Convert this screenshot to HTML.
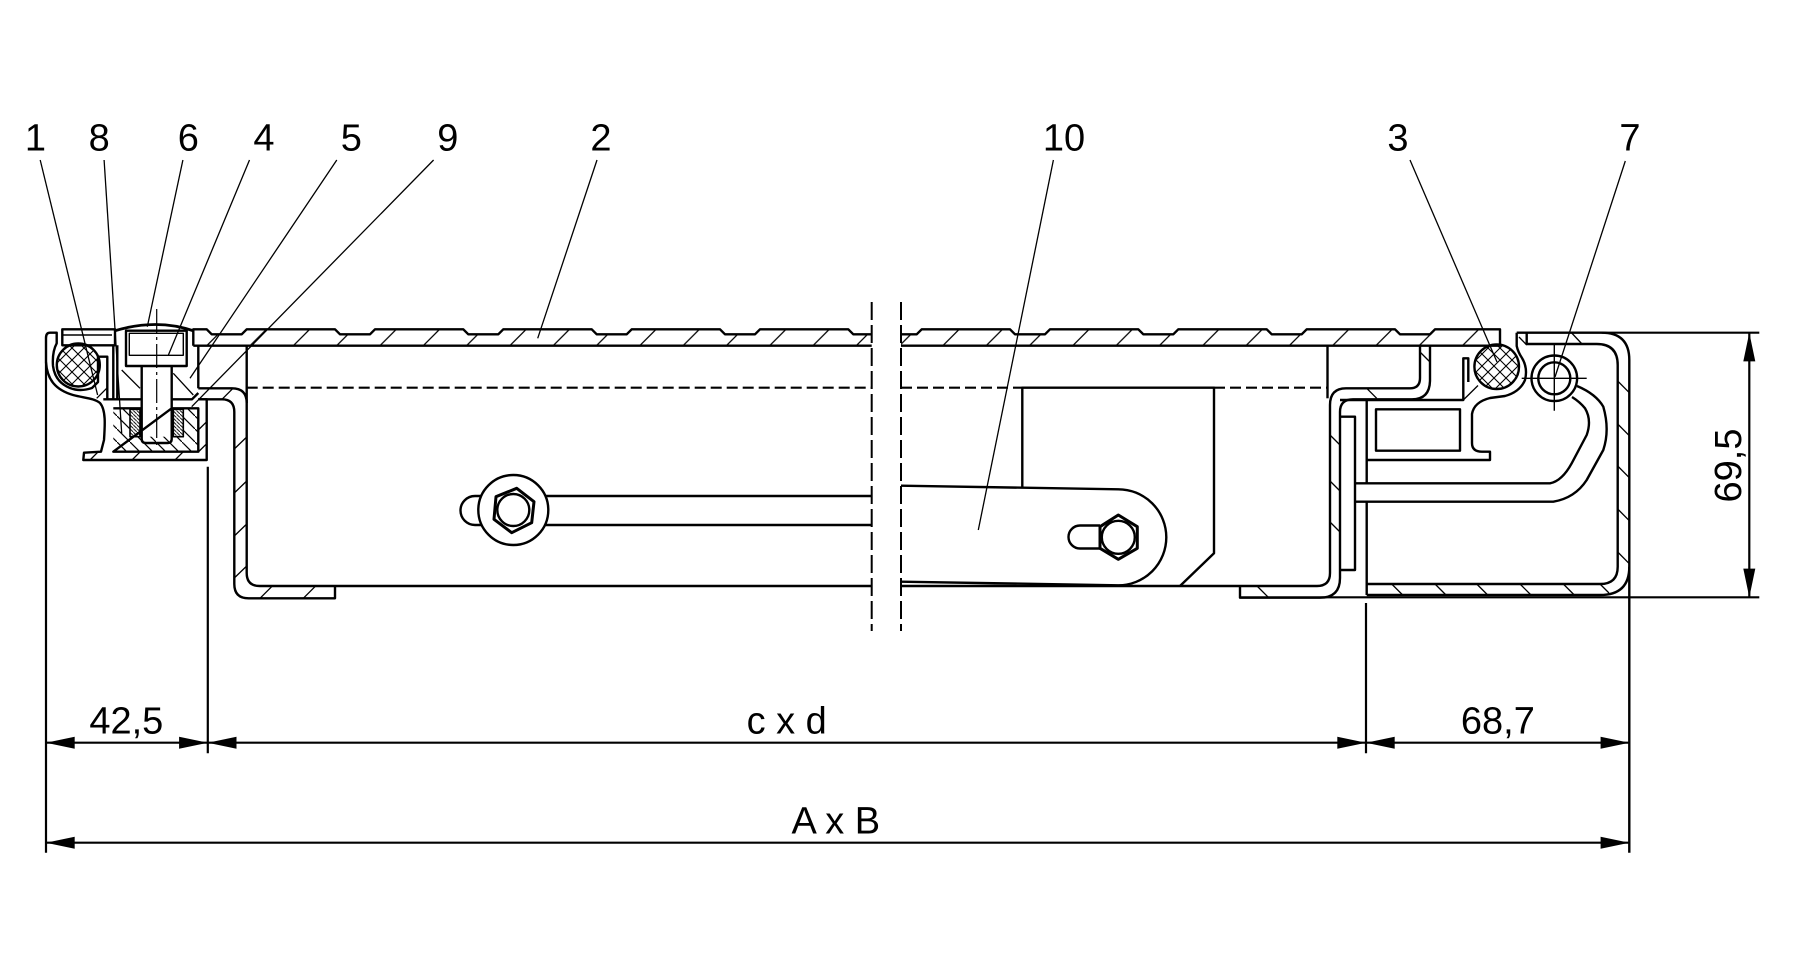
<!DOCTYPE html>
<html><head><meta charset="utf-8"><style>
html,body{margin:0;padding:0;background:#fff;}
svg{display:block;}
text{font-family:"Liberation Sans",Arial,sans-serif;fill:#000;font-size:38px;}
</style></head><body>
<svg width="1794" height="968" viewBox="0 0 1794 968" xmlns="http://www.w3.org/2000/svg">
<defs>
<pattern id="hp" patternUnits="userSpaceOnUse" x="32.8" y="0" width="43.3" height="43.3"><path d="M-2,45.3 L45.3,-2" stroke="#000" stroke-width="1.3" fill="none"/></pattern>
<pattern id="ch" patternUnits="userSpaceOnUse" width="12" height="12"><path d="M-1,-1 L13,13 M13,-1 L-1,13" stroke="#000" stroke-width="1.1" fill="none"/></pattern>
<pattern id="dh" patternUnits="userSpaceOnUse" width="3.6" height="3.6"><path d="M-1,-1 L4.6,4.6" stroke="#000" stroke-width="0.9" fill="none"/></pattern>
<pattern id="bs" patternUnits="userSpaceOnUse" width="13" height="13"><path d="M-1,-1 L14,14" stroke="#000" stroke-width="1.2" fill="none"/></pattern>
</defs>

<!-- plate fills -->
<path d="M193.3,345.7 L193.3,329.3 L206.7,329.3 L211.7,334.3 L241.7,334.3 L246.7,329.3 L335,329.3 L340,334.3 L370,334.3 L375,329.3 L463.3,329.3 L468.3,334.3 L498.3,334.3 L503.3,329.3 L591.7,329.3 L596.7,334.3 L626.7,334.3 L631.7,329.3 L720,329.3 L725,334.3 L755,334.3 L760,329.3 L848.3,329.3 L853.3,334.3 L871.7,334.3 L871.7,345.7 Z" fill="url(#hp)" stroke="none"/>
<path d="M901,345.7 L901,334.3 L916.7,334.3 L921.7,329.3 L1010,329.3 L1015,334.3 L1045,334.3 L1050,329.3 L1138.3,329.3 L1143.3,334.3 L1173.3,334.3 L1178.3,329.3 L1266.7,329.3 L1271.7,334.3 L1301.7,334.3 L1306.7,329.3 L1395,329.3 L1400,334.3 L1430,334.3 L1435,329.3 L1500,329.3 L1500,345.7 Z" fill="url(#hp)" stroke="none"/>

<!-- seals & nut fills -->
<circle cx="78.3" cy="365" r="21.5" fill="url(#ch)" stroke="none"/>
<circle cx="1496.7" cy="366.7" r="22.3" fill="url(#ch)" stroke="none"/>
<rect x="130" y="409.3" width="10" height="27.4" fill="url(#dh)" stroke="none"/>
<rect x="173.3" y="409.3" width="10" height="27.4" fill="url(#dh)" stroke="none"/>
<rect x="113.3" y="408.3" width="16.7" height="43.4" fill="url(#bs)" stroke="none"/>
<rect x="183.3" y="408.3" width="15" height="43.4" fill="url(#bs)" stroke="none"/>
<rect x="130" y="436.7" width="53.3" height="15" fill="url(#bs)" stroke="none"/>

<g fill="none" stroke="#000" stroke-width="2.4" stroke-linejoin="round">
<!-- plate outlines -->
<path d="M193.3,345.7 L193.3,329.3 L206.7,329.3 L211.7,334.3 L241.7,334.3 L246.7,329.3 L335,329.3 L340,334.3 L370,334.3 L375,329.3 L463.3,329.3 L468.3,334.3 L498.3,334.3 L503.3,329.3 L591.7,329.3 L596.7,334.3 L626.7,334.3 L631.7,329.3 L720,329.3 L725,334.3 L755,334.3 L760,329.3 L848.3,329.3 L853.3,334.3 L871.7,334.3"/>
<path d="M193.3,345.7 L871.7,345.7"/>
<path d="M901,334.3 L916.7,334.3 L921.7,329.3 L1010,329.3 L1015,334.3 L1045,334.3 L1050,329.3 L1138.3,329.3 L1143.3,334.3 L1173.3,334.3 L1178.3,329.3 L1266.7,329.3 L1271.7,334.3 L1301.7,334.3 L1306.7,329.3 L1395,329.3 L1400,334.3 L1430,334.3 L1435,329.3 L1500,329.3 L1500,345.7 L901,345.7"/>

<!-- left small plate piece -->
<rect x="62.3" y="329.3" width="52.7" height="16"/>
<path d="M62.3,335 L112,335" stroke-width="1.4"/>

<!-- bolt cap & head -->
<path d="M114,331 Q156.7,318 194,331" stroke-width="2.8"/>
<rect x="126" y="330.7" width="60.7" height="35.3"/>
<rect x="129.3" y="333.3" width="54" height="22" stroke-width="1.4"/>
<path d="M141.7,366 L141.7,439 Q141.7,443 146,443 L167.4,443 Q171.7,443 171.7,439 L171.7,366"/>
<rect x="130" y="409.3" width="10" height="27.4" stroke-width="1.6"/>
<rect x="173.3" y="409.3" width="10" height="27.4" stroke-width="1.6"/>

<!-- blocks around bolt -->
<path d="M113.3,345.3 L113.3,399.3 M117.3,345.3 L117.3,399.3"/>
<path d="M198.3,345.7 L198.3,388.3"/>
<path d="M103.3,399.3 L141.7,399.3 M171.7,399.3 L192,399.3 L198.3,393"/>
<path d="M121.7,370 L140,388.3 M173.3,373.3 L193.3,395" stroke-width="1.3"/>
<path d="M113.3,408.3 L141.7,408.3 M171.7,408.3 L198.3,408.3 L198.3,451.7 L113.3,451.7 Z"/>

<!-- left frame profile (item 1) -->
<path d="M46,362 L46,338 Q46,332.7 50,332.7 L56.7,332.7 L56.7,343.3 Q52,352 53,366 Q55,382 70,388 Q80,392 92,388 L98,382 L98,356.7 L107.3,356.7 L107.3,399.3"/>
<path d="M46,362 C47,380 56,390 73,395 C84,398 94,398 100,403 C106,410 105,425 104,440 L101,451.7 L84,452.7 L83.3,460 L206.7,460 L206.7,399.3 L198.3,399.3"/>
<circle cx="78.3" cy="365" r="21.5"/>
<path d="M96.7,398.3 L107.3,387.7 M90,460 L98.3,451.7 M132,460 L140.3,451.7 M175,460 L183.3,451.7 M198.3,430 L206.7,421.7 M198.3,452 L206.7,443.7" stroke-width="1.3"/>

<!-- left channel -->
<path d="M198.3,388.3 L232,388.3 Q246.7,388.3 246.7,403 L246.7,573 Q246.7,586 259.7,586 L871.7,586"/>
<path d="M246.7,345.7 L246.7,403"/>
<path d="M198.3,399.3 L222,399.3 Q234.3,399.3 234.3,412 L234.3,584 Q234.3,598.3 248.6,598.3 L335,598.3 L335,586"/>
<path d="M234.3,449 L246.7,437 M234.3,493 L246.7,481 M234.3,536 L246.7,524 M234.3,578 L246.7,566 M260,598.3 L272,586.3 M303.3,598.3 L315.3,586.3 M222,399.3 L233,388.3" stroke-width="1.3"/>

<!-- left knob & rod -->
<circle cx="513.3" cy="510" r="35"/>
<polygon points="516.7,488.3 534,501.7 531.7,522.7 511.7,532.7 494,519.3 496,496.7" stroke-width="3"/>
<circle cx="513.3" cy="510" r="16"/>
<path d="M481.2,496 L475,496 A14.5,14.5 0 0 0 475,525 L481.2,525"/>
<path d="M545.4,496 L871.7,496 M544.9,525 L871.7,525"/>

<!-- right interior: block & lever -->
<path d="M1022.3,486.7 L1022.3,387.7 L1214,387.7 L1214,553.3 L1180,586"/>
<path d="M901,485.7 L1118.3,489.3 A48,48 0 0 1 1118.3,585.3 L901,581.7"/>
<polygon points="1118.3,515 1137.3,526.7 1137.3,548.3 1118.3,559.3 1100,548.3 1100,526.7" stroke-width="3"/>
<circle cx="1118.3" cy="537.3" r="16.5"/>
<path d="M1100,525.5 L1080,525.5 A11.5,11.5 0 0 0 1080,548.5 L1100,548.5"/>
<path d="M901,586 L1317,586 Q1330,586 1330,573 L1330,405 Q1330,388.3 1346,388.3 L1410,388.3 Q1420,388.3 1420,378 L1420,345.7"/>
<path d="M1430,345.7 L1430,380 Q1430,399.3 1412,399.3 L1353,399.3 Q1340,399.3 1340,412 L1340,578 Q1340,597.7 1320,597.7 L1240,597.7 L1240,586"/>
<path d="M1327.5,345.7 L1327.5,398.3"/>
<path d="M1330,435 L1340,445 M1330,481 L1340,491 M1330,522 L1340,532 M1257,586 L1268.7,597.7 M1366.7,388.3 L1376.7,398.3 M1420,352 L1430,362" stroke-width="1.3"/>

<!-- thin strip -->
<path d="M1340,416.7 L1355,416.7 L1355,570 L1340,570"/>
<!-- bracket -->
<path d="M1366.7,400 L1366.7,483.3 M1366.7,501.7 L1366.7,595"/>
<path d="M1340,400 L1463.3,400 L1463.3,358.3 L1468.3,358.3 L1468.3,382"/>
<path d="M1463.3,400 L1478,385.5" stroke-width="1.3"/>
<rect x="1376" y="409.3" width="84" height="41.4"/>
<path d="M1516.7,332.7 L1516.7,346 Q1518,352 1522,358 Q1528,368 1525,380 Q1520,392 1505,396 L1490,398 Q1474,402 1472,414 L1472,443 Q1472,451.7 1482,451.7 L1490,451.7 L1490,460 L1366.7,460"/>
<!-- hook arm -->
<path d="M1355,483.3 L1550,483.3 Q1562,481 1571.7,463.3 L1586.7,435 Q1592,420 1585,408.3 Q1580,402 1572,397"/>
<path d="M1355,501.7 L1553.3,501.7 Q1575,498 1586.7,480 L1603.3,450 Q1610,430 1603.3,406.7 Q1596,394 1577,386"/>
<!-- hinge pin 7 -->
<circle cx="1554.3" cy="378.3" r="22.8"/>
<circle cx="1554.3" cy="378.3" r="16"/>
<path d="M1521.7,378.3 L1586.7,378.3 M1554.3,345 L1554.3,410.7" stroke-width="1.4"/>
<!-- seal 3 -->
<circle cx="1496.7" cy="366.7" r="22.3"/>

<!-- big right frame -->
<path d="M1516.7,332.7 L1601.7,332.7 Q1629.3,332.7 1629.3,360 L1629.3,852.7"/>
<path d="M1629.3,566.7 Q1629.3,595 1600,595 L1366.7,595"/>
<path d="M1526.7,332.7 L1526.7,344 L1596.7,344 Q1617.7,344 1617.7,365 L1617.7,566.7 Q1617.7,584 1600,584 L1366.7,584"/>
<path d="M1617.7,381 L1629.3,392.7 M1617.7,424 L1629.3,435.7 M1617.7,466 L1629.3,477.7 M1617.7,509 L1629.3,520.7 M1617.7,552 L1629.3,563.7 M1391.7,584 L1402.7,595 M1435,584 L1446,595 M1476.7,584 L1487.7,595 M1520,584 L1531,595 M1563.3,584 L1574.3,595 M1600,584 L1609,593 M1571.7,333 L1582,344 M1519,337 L1526.7,345" stroke-width="1.3"/>
</g>

<!-- dashed hidden line -->
<g fill="none" stroke="#000" stroke-width="2.2" stroke-dasharray="11,5">
<path d="M246.7,387.7 L871.7,387.7 M901,387.7 L1022.3,387.7 M1214,387.7 L1327.5,387.7"/>
</g>
<!-- break lines -->
<g fill="none" stroke="#000" stroke-width="2" stroke-dasharray="18,5">
<path d="M871.7,302 L871.7,631 M901,302 L901,631"/>
</g>
<!-- centerline -->
<path d="M156.7,309 L156.7,449" stroke="#000" stroke-width="1.2" stroke-dasharray="24,4,3,4" fill="none"/>

<!-- leader lines -->
<g fill="none" stroke="#000" stroke-width="1.3">
<path d="M40.2,160 L97.6,395"/>
<path d="M104.1,160 L121.7,433.3"/>
<path d="M182.9,160 L147.3,326.7"/>
<path d="M249.5,160 L168.4,355"/>
<path d="M336.8,160 L190,378.3"/>
<path d="M433.6,160 L191.7,406.7"/>
<path d="M597,160 L537.7,338.3"/>
<path d="M1053.4,160 L978.3,530"/>
<path d="M1410,160 L1497,362"/>
<path d="M1625.3,161 L1555,377"/>
</g>

<!-- dimension lines -->
<g fill="none" stroke="#000" stroke-width="2.2">
<path d="M46,362 L46,852.7"/>
<path d="M207.8,466.7 L207.8,753.3"/>
<path d="M1366,603 L1366,753.3"/>
<path d="M46,742.7 L1629.3,742.7"/>
<path d="M46,842.7 L1629.3,842.7"/>
<path d="M1601.7,332.7 L1759.3,332.7"/>
<path d="M1240,597.3 L1759.3,597.3"/>
<path d="M1749.3,332.7 L1749.3,597.3"/>
</g>
<g fill="#000" stroke="none">
<polygon points="46,742.7 74.7,736.7 74.7,748.7"/>
<polygon points="207.8,742.7 179.1,736.7 179.1,748.7"/>
<polygon points="207.8,742.7 236.5,736.7 236.5,748.7"/>
<polygon points="1366,742.7 1337.3,736.7 1337.3,748.7"/>
<polygon points="1366,742.7 1394.7,736.7 1394.7,748.7"/>
<polygon points="1629.3,742.7 1600.6,736.7 1600.6,748.7"/>
<polygon points="46,842.7 74.7,836.7 74.7,848.7"/>
<polygon points="1629.3,842.7 1600.6,836.7 1600.6,848.7"/>
<polygon points="1749.3,332.7 1743.3,361.4 1755.3,361.4"/>
<polygon points="1749.3,597.3 1743.3,568.6 1755.3,568.6"/>
</g>

<!-- labels -->
<g text-anchor="middle">
<text x="35.5" y="150.7">1</text>
<text x="99.2" y="150.7">8</text>
<text x="188.3" y="150.7">6</text>
<text x="264" y="150.7">4</text>
<text x="351.3" y="150.7">5</text>
<text x="447.8" y="150.7">9</text>
<text x="601" y="150.7">2</text>
<text x="1064" y="150.7">10</text>
<text x="1398" y="150.7">3</text>
<text x="1630" y="150.7">7</text>
<text x="126.3" y="733.3">42,5</text>
<text x="786.7" y="733.3">c x d</text>
<text x="1497.9" y="733.3">68,7</text>
<text x="835.8" y="833.3">A x B</text>
<text x="1741" y="465.5" transform="rotate(-90 1741 465.5)">69,5</text>
</g>
</svg>
</body></html>
